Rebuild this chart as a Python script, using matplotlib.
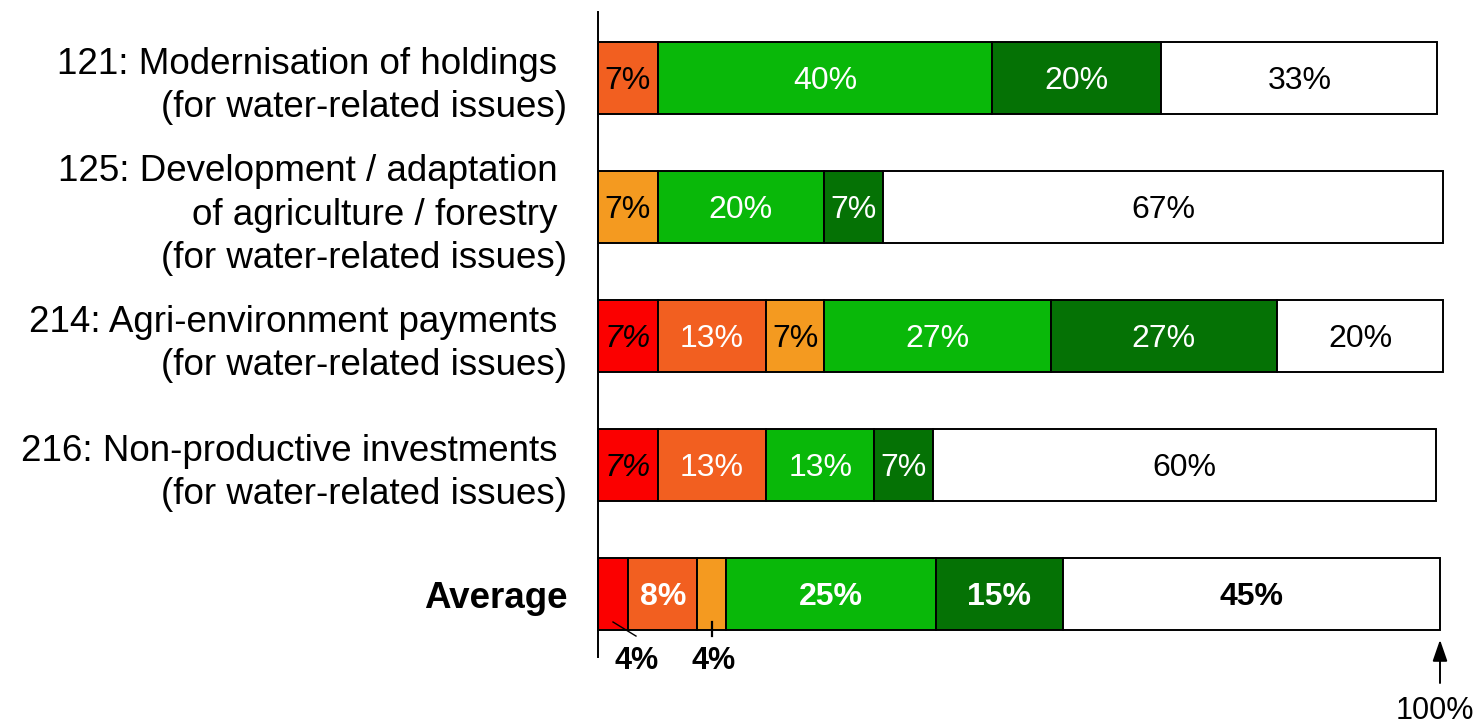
import matplotlib
matplotlib.use("Agg")
import matplotlib.pyplot as plt

categories = [
    "121: Modernisation of holdings \n(for water-related issues)",
    "125: Development / adaptation \nof agriculture / forestry \n(for water-related issues)",
    "214: Agri-environment payments \n(for water-related issues)",
    "216: Non-productive investments \n(for water-related issues)",
    "Average",
]

# segment widths (% of respondents)
val_red        = [0.0, 0.0, 7.1, 7.1, 3.6]
val_orangered  = [7.1, 0.0, 12.9, 12.9, 8.2]
val_orange     = [0.0, 7.1, 6.8, 0.0, 3.4]
val_green      = [39.7, 19.7, 27.0, 12.8, 24.9]
val_darkgreen  = [20.1, 7.1, 26.8, 7.0, 15.1]
val_white      = [32.8, 66.5, 19.8, 59.7, 44.8]

lab_red        = ["", "", "7%", "7%", ""]
lab_orangered  = ["7%", "", "13%", "13%", "8%"]
lab_orange     = ["", "7%", "7%", "", ""]
lab_green      = ["40%", "20%", "27%", "13%", "25%"]
lab_darkgreen  = ["20%", "7%", "27%", "7%", "15%"]
lab_white      = ["33%", "67%", "20%", "60%", "45%"]

avg_outside_labels = ["4%", "4%"]

series = [
    (val_red, lab_red, "#FB0000", ["black"] * 5, "italic"),
    (val_orangered, lab_orangered, "#F25F20", ["black", "white", "white", "white", "white"], "normal"),
    (val_orange, lab_orange, "#F49A20", ["black"] * 5, "normal"),
    (val_green, lab_green, "#09B809", ["white"] * 5, "normal"),
    (val_darkgreen, lab_darkgreen, "#057205", ["white"] * 5, "normal"),
    (val_white, lab_white, "#FFFFFF", ["black"] * 5, "normal"),
]

plt.rcParams['font.family'] = ['Liberation Sans', 'DejaVu Sans']

W, H = 1479, 725
fig = plt.figure(figsize=(W / 100, H / 100), dpi=100)
x0, x1 = 598, 1479
ytop, ybot = 12, 657
ax = fig.add_axes([x0 / W, (H - ybot) / H, (x1 - x0) / W, (ybot - ytop) / H])
pxper = 8.42
ax.set_xlim(0, (x1 - x0) / pxper)
ax.set_ylim(4 + 63 / 129, -66 / 129)

ypos = list(range(len(categories)))
left = [0.0] * len(categories)
for vals, labs, color, tcols, style in series:
    ax.barh(ypos, vals, left=left, height=0.56, color=color,
            edgecolor="black", linewidth=1.4, clip_on=False, zorder=2)
    for i, (v, lab) in enumerate(zip(vals, labs)):
        if lab:
            bold = (i == len(categories) - 1)
            ax.text(left[i] + v / 2, i + 0.025, lab, ha="center", va="center",
                    color=tcols[i], fontsize=23, style=style,
                    fontweight="bold" if bold else "normal", zorder=3)
    left = [l + v for l, v in zip(left, vals)]

# outside labels for the small Average segments
ax.plot([1.78, 4.51], [4.217, 4.326], color="black", lw=1.0, clip_on=False, zorder=4)
ax.plot([13.54, 13.54], [4.217, 4.326], color="black", lw=1.6, clip_on=False, zorder=4)
ax.text(4.6, 4.52, avg_outside_labels[0], ha="center", va="center",
        fontsize=22, fontweight="bold", clip_on=False)
ax.text(13.7, 4.52, avg_outside_labels[1], ha="center", va="center",
        fontsize=22, fontweight="bold", clip_on=False)

# 100% marker
ax.annotate("", xy=(100, 4.355), xytext=(100, 4.69),
            arrowprops=dict(arrowstyle="-|>,head_length=1.3,head_width=0.45",
                            color="black", lw=1.4, shrinkA=0, shrinkB=0),
            annotation_clip=False)
ax.text(99.4, 4.905, "100%", ha="center", va="center", fontsize=22, clip_on=False)

ax.set_yticks(ypos)
ax.set_yticklabels(categories, fontsize=26.5, ha="right", multialignment="right",
                   linespacing=1.3)
ax.get_yticklabels()[-1].set_fontweight("bold")
ax.tick_params(axis="y", length=0, pad=22)
ax.set_xticks([])
for s in ["top", "right", "bottom"]:
    ax.spines[s].set_visible(False)
ax.spines["left"].set_linewidth(1.4)
ax.patch.set_visible(False)

fig.savefig("out.png", dpi=100)
